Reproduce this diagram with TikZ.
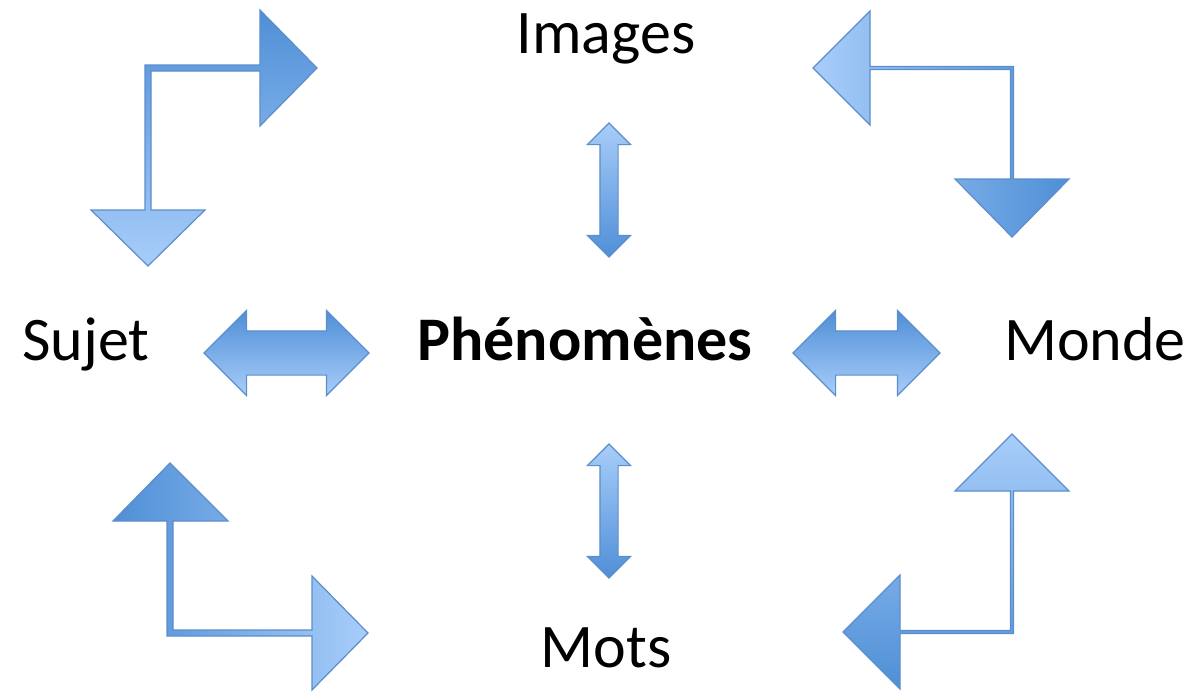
\documentclass[tikz,border=0pt]{standalone}
\usepackage{fontspec}
\setmainfont{Carlito}
\usetikzlibrary{positioning,shapes.arrows}

\definecolor{arrowdark}{RGB}{79,143,214}
\definecolor{arrowlight}{RGB}{168,205,250}
\definecolor{arrowline}{RGB}{92,141,204}

\begin{document}
\begin{tikzpicture}[x=0.5pt,y=0.5pt,yscale=-1,xscale=1,
  word/.style={anchor=base, inner sep=0.75pt, font=\fontsize{31}{37}\selectfont},
  dblarrow/.style={shape=double arrow, draw=arrowline, line width=0.6pt, outer sep=0pt},
  bentarrow/.style={draw=arrowline, line width=0.6pt, line join=miter}]

\useasboundingbox (0,0) rectangle (1196,693);

% Text Node
\node [word] (images) at (606,53) {Images};
% Text Node
\node [word] (mots) at (606,667) {Mots};
% Text Node
\node [word] (sujet) at (86,360) {Sujet};
% Text Node
\node [word] (monde) at (1095,360) {Monde};
% Text Node
\node [word, font=\fontsize{31}{37}\selectfont\bfseries] (phen) at (585,360) {Phénomènes};

%Shape: Double Arrow
\node [dblarrow, inner xsep=0pt, inner ysep=10.75pt, minimum height=82.5pt, double arrow head extend=10.25pt,
  top color=arrowdark, bottom color=arrowlight] (sujetphen) at (286.5,353) {};
%Shape: Double Arrow
\node [dblarrow, inner xsep=0pt, inner ysep=10.75pt, minimum height=73.5pt, double arrow head extend=10.25pt,
  top color=arrowdark, bottom color=arrowlight] (phenmonde) at (866.5,353) {};
%Shape: Double Arrow
\node [dblarrow, shape border rotate=90, inner sep=4.25pt, minimum height=67pt, double arrow head extend=6.25pt,
  top color=arrowlight, bottom color=arrowdark] (imagesphen) at (609,190) {};
%Shape: Double Arrow
\node [dblarrow, shape border rotate=90, inner sep=4.25pt, minimum height=67pt, double arrow head extend=6.25pt,
  top color=arrowlight, bottom color=arrowdark] (phenmots) at (609,511) {};

%Shape: Bent Arrow (Sujet to Images)
\path [bentarrow, top color=arrowdark, bottom color=arrowlight]
  (145,65) -- (260,65) -- (260,10) -- (317,68) -- (260,126) -- (260,71) -- (151,71)
  -- (151,210) -- (205,210) -- (148,266) -- (91,210) -- (145,210) -- cycle ;
%Shape: Bent Arrow (Images to Monde)
\path [bentarrow, left color=arrowlight, right color=arrowdark]
  (870,11) -- (870,66.5) -- (1013.5,66.5) -- (1013.5,179) -- (1069,179) -- (1012,237)
  -- (955,179) -- (1010.5,179) -- (1010.5,69.5) -- (870,69.5) -- (870,125) -- (813,68) -- cycle ;
%Shape: Bent Arrow (Mots to Sujet)
\path [bentarrow, left color=arrowdark, right color=arrowlight]
  (170,463) -- (228,521) -- (173,521) -- (173,630) -- (312,630) -- (312,576) -- (368,633)
  -- (312,690) -- (312,636) -- (167,636) -- (167,521) -- (113,521) -- cycle ;
%Shape: Bent Arrow (Monde to Mots)
\path [bentarrow, top color=arrowlight, bottom color=arrowdark]
  (1012,434) -- (1069,491) -- (1013.5,491) -- (1013.5,633.5) -- (900,633.5) -- (900,689)
  -- (843,632) -- (900,575) -- (900,630.5) -- (1010.5,630.5) -- (1010.5,491) -- (955,491) -- cycle ;

\end{tikzpicture}
\end{document}
